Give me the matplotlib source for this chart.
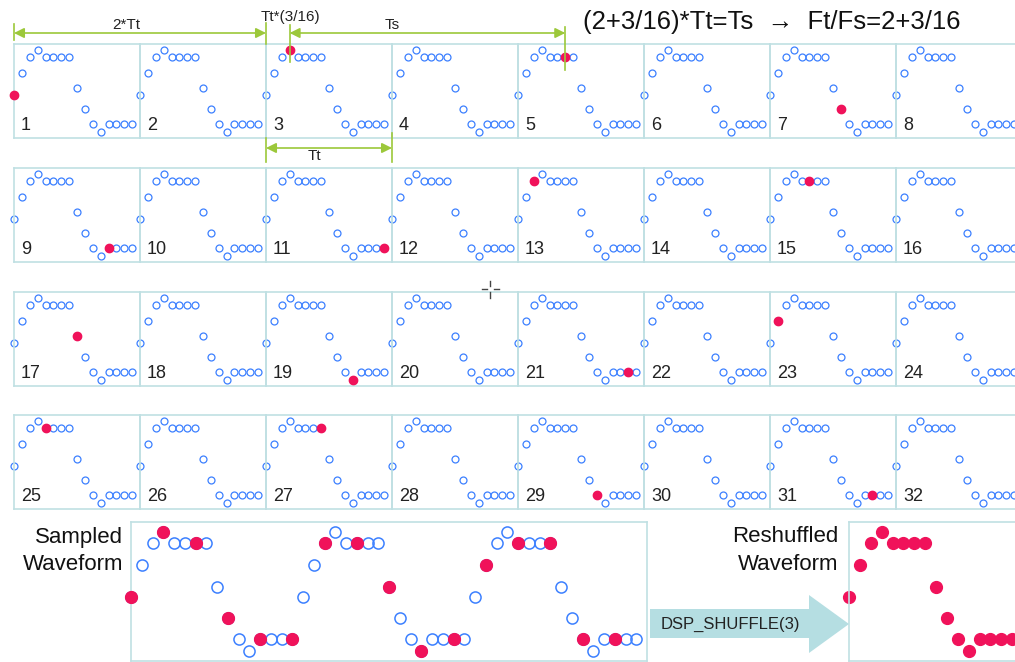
import numpy as np
import matplotlib
matplotlib.use("Agg")
import matplotlib.pyplot as plt
from matplotlib.patches import Polygon

plt.rcParams['font.family'] = ['Liberation Sans', 'DejaVu Sans']

# one period of the test waveform (16 samples)
wave = [0.0, 0.49, 0.83, 1.0, 0.83, 0.83, 0.83, 0.83,
        0.16, -0.32, -0.65, -0.82, -0.65, -0.65, -0.65, -0.65]
tile_labels = [str(k) for k in range(1, 33)]
# sample index caught in each (odd) tile
tile_red = {1: 0, 3: 3, 5: 6, 7: 9, 9: 12, 11: 15, 13: 2, 15: 5,
            17: 8, 19: 11, 21: 14, 23: 1, 25: 4, 27: 7, 29: 10, 31: 13}
n_periods = 3
sampled_red = [0, 3, 6, 9, 12, 15, 18, 21, 24, 27, 30, 33, 36, 39, 42, 45]
reshuffled = wave

blue = '#3c80ff'
red = '#f0125a'
green = '#9cc83a'
frame = '#c0e0e3'

W, H = 1015, 662
fig = plt.figure(figsize=(W / 100, H / 100), dpi=100)


def box(x, y, w, h):
    return [x / W, 1 - (y + h) / H, w / W, h / H]


def style(ax, lw=1.2):
    ax.set_xticks([])
    ax.set_yticks([])
    ax.set_facecolor('none')
    for s in ax.spines.values():
        s.set_color(frame)
        s.set_linewidth(lw)


# tiles
tx0, tdx, th = 14, 126, 94
tops = [44, 168, 292, 415]
for k in range(32):
    r, c = k // 8, k % 8
    ax = fig.add_axes(box(tx0 + tdx * c, tops[r], tdx, th))
    ax.plot(range(16), wave, 'o', mfc='none', mec=blue, ms=5, mew=0.9,
            clip_on=False)
    if k + 1 in tile_red:
        i = tile_red[k + 1]
        ax.plot(i, wave[i], 'o', color=red, ms=6, clip_on=False, zorder=3)
    ax.set_xlim(0, 16)
    ax.set_ylim(-0.96, 1.13)
    style(ax)
    ax.text(0.055, 0.085, tile_labels[k], transform=ax.transAxes,
            fontsize=13, color='#222222', va='baseline', ha='left')

# sampled waveform
ax = fig.add_axes(box(131, 522, 516, 139))
xs = np.arange(16 * n_periods)
ys = np.tile(wave, n_periods)
ax.plot(xs, ys, 'o', mfc='none', mec=blue, ms=8, mew=1.1, clip_on=False)
ax.plot(xs[sampled_red], ys[sampled_red], 'o', color=red, ms=8.5,
        clip_on=False, zorder=3)
ax.set_xlim(0, 48)
ax.set_ylim(-0.98, 1.15)
style(ax)

# reshuffled waveform
ax = fig.add_axes(box(849, 522, 174, 139))
ax.plot(range(16), reshuffled, 'o', color=red, ms=8.5, clip_on=False)
ax.set_xlim(0, 16)
ax.set_ylim(-0.98, 1.15)
style(ax)

# overlay in pixel coordinates for the annotations
ov = fig.add_axes([0, 0, 1, 1])
ov.set_xlim(0, W)
ov.set_ylim(H, 0)
ov.axis('off')
ov.set_zorder(5)

ap = dict(arrowstyle='<|-|>,head_length=0.6,head_width=0.3', color=green,
          lw=1.2, mutation_scale=10, shrinkA=0, shrinkB=0)
x3 = tx0 + tdx * 2
x3s = x3 + 3 * tdx / 16
x5s = tx0 + tdx * 4 + 6 * tdx / 16
x4 = tx0 + tdx * 3
ov.annotate('', xy=(tx0, 33), xytext=(x3, 33), arrowprops=ap)
ov.annotate('', xy=(x3s, 33), xytext=(x5s, 33), arrowprops=ap)
ov.annotate('', xy=(x3, 148), xytext=(x4, 148), arrowprops=ap)
for x, y0, y1 in [(tx0, 24, 40), (x3, 23, 44), (x3s, 25, 62), (x5s, 27, 70),
                  (x3, 138, 162), (x4, 133, 162)]:
    ov.plot([x, x], [y0, y1], color=green, lw=1.2)

ov.text(126, 25, '2*Tt', fontsize=11, ha='center', va='center', color='#222222')
ov.text(290, 17, 'Tt*(3/16)', fontsize=11, ha='center', va='center', color='#222222')
ov.text(392, 25, 'Ts', fontsize=11, ha='center', va='center', color='#222222')
ov.text(314, 156, 'Tt', fontsize=11, ha='center', va='center', color='#222222')
ov.text(583, 22, '(2+3/16)*Tt=Ts  \u2192  Ft/Fs=2+3/16', fontsize=18.5,
        ha='left', va='center', color='#111111')

ov.text(123, 537, 'Sampled', fontsize=16, ha='right', va='center', color='#111111')
ov.text(123, 565, 'Waveform', fontsize=16, ha='right', va='center', color='#111111')
ov.text(838, 537, 'Reshuffled', fontsize=16, ha='right', va='center', color='#111111')
ov.text(838, 565, 'Waveform', fontsize=16, ha='right', va='center', color='#111111')

arrow = Polygon([(650, 609), (809, 609), (809, 595), (849, 624), (809, 653),
                 (809, 638), (650, 638)], closed=True, fc='#b5dee2', ec='none')
ov.add_patch(arrow)
ov.text(730, 624, 'DSP_SHUFFLE(3)', fontsize=12, ha='center', va='center',
        color='#222222', family=['Liberation Sans Narrow', 'Liberation Sans'])

# cursor mark
for xx, yy in [((482, 487), (289, 289)), ((494, 499), (289, 289)),
               ((490.5, 490.5), (281, 286)), ((490.5, 490.5), (292, 298))]:
    ov.plot(xx, yy, color='#444444', lw=1)

fig.savefig('out.png', dpi=100)
